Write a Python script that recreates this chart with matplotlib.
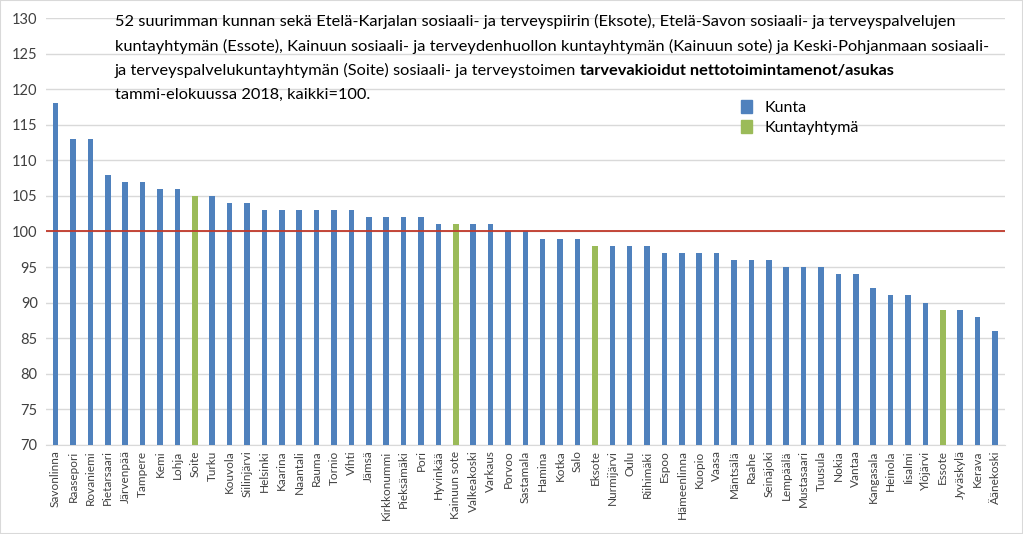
import matplotlib.pyplot as plt
from matplotlib.patches import Rectangle

names = ["Savonlinna", "Raasepori", "Rovaniemi", "Pietarsaari", "Järvenpää", "Tampere", "Kemi",
         "Lohja", "Soite", "Turku", "Kouvola", "Siilinjärvi", "Helsinki", "Kaarina", "Naantali",
         "Rauma", "Tornio", "Vihti", "Jämsä", "Kirkkonummi", "Pieksämäki", "Pori", "Hyvinkää",
         "Kainuun sote", "Valkeakoski", "Varkaus", "Porvoo", "Sastamala", "Hamina", "Kotka", "Salo",
         "Eksote", "Nurmijärvi", "Oulu", "Riihimäki", "Espoo", "Hämeenlinna", "Kuopio", "Vaasa",
         "Mäntsälä", "Raahe", "Seinäjoki", "Lempäälä", "Mustasaari", "Tuusula", "Nokia", "Vantaa",
         "Kangasala", "Heinola", "Iisalmi", "Ylöjärvi", "Essote", "Jyväskylä", "Kerava", "Äänekoski"]
values = [118, 113, 113, 108, 107, 107, 106, 106, 105, 105, 104, 104, 103, 103, 103, 103, 103, 103,
          102, 102, 102, 102, 101, 101, 101, 101, 100, 100, 99, 99, 99, 98, 98, 98, 98, 97, 97, 97,
          97, 96, 96, 96, 95, 95, 95, 94, 94, 92, 91, 91, 90, 89, 89, 88, 86]
federations = ["Soite", "Kainuun sote", "Eksote", "Essote"]

blue = "#4f81bd"
green = "#9bbb59"
plt.rcParams["font.family"] = ["Lato", "DejaVu Sans"]

fig = plt.figure(figsize=(10.23, 5.34), dpi=100)
ax = fig.add_axes([0.045, 0.167, 0.937, 0.799])

x = range(len(names))
colors = [green if n in federations else blue for n in names]
ax.bar(x, values, width=0.32, color=colors, zorder=3)
ax.axhline(100, color="#c0392b", linewidth=1.3, zorder=4)

ax.set_ylim(70, 130)
ax.set_xlim(-0.55, len(names) - 0.45)
ax.set_yticks(range(70, 131, 5))
ax.grid(axis="y", color="#d9d9d9", linewidth=1, zorder=0)
ax.set_xticks(list(x))
ax.set_xticklabels(names, rotation=90, fontsize=8.5, color="#404040")
ax.tick_params(axis="y", labelsize=10.5, colors="#404040", length=0, pad=6)
ax.tick_params(axis="x", length=0, pad=4)
for s in ["top", "right", "left"]:
    ax.spines[s].set_visible(False)
ax.spines["bottom"].set_color("#d9d9d9")

# otsikko riveittäin, lihavoitu osa omana tekstinään
title_lines = [
    "52 suurimman kunnan sekä Etelä-Karjalan sosiaali- ja terveyspiirin (Eksote), Etelä-Savon sosiaali- ja terveyspalvelujen",
    "kuntayhtymän (Essote), Kainuun sosiaali- ja terveydenhuollon kuntayhtymän (Kainuun sote) ja Keski-Pohjanmaan sosiaali-",
    "ja terveyspalvelukuntayhtymän (Soite) sosiaali- ja terveystoimen ",
    "tammi-elokuussa 2018, kaikki=100.",
]
bold_part = "tarvevakioidut nettotoimintamenot/asukas"
fs = 11.8
y0 = 0.974
step = 0.046
texts = []
for i, line in enumerate(title_lines):
    texts.append(fig.text(0.112, y0 - i * step, line, fontsize=fs, va="top", ha="left"))
ax.annotate(bold_part, xy=(1, 0), xycoords=texts[2], fontsize=fs, fontweight="bold",
            va="bottom", ha="left")

handles = [Rectangle((0, 0), 1, 1, color=blue), Rectangle((0, 0), 1, 1, color=green)]
fig.legend(handles, ["Kunta", "Kuntayhtymä"], loc="upper left", bbox_to_anchor=(0.71, 0.84),
           frameon=False, fontsize=11.5, handlelength=0.7, handleheight=0.9, labelspacing=0.3)

fig.patches.append(Rectangle((0, 0), 1, 1, transform=fig.transFigure, fill=False,
                             edgecolor="#d9d9d9", linewidth=1.5))

plt.savefig("out.png", dpi=100)
